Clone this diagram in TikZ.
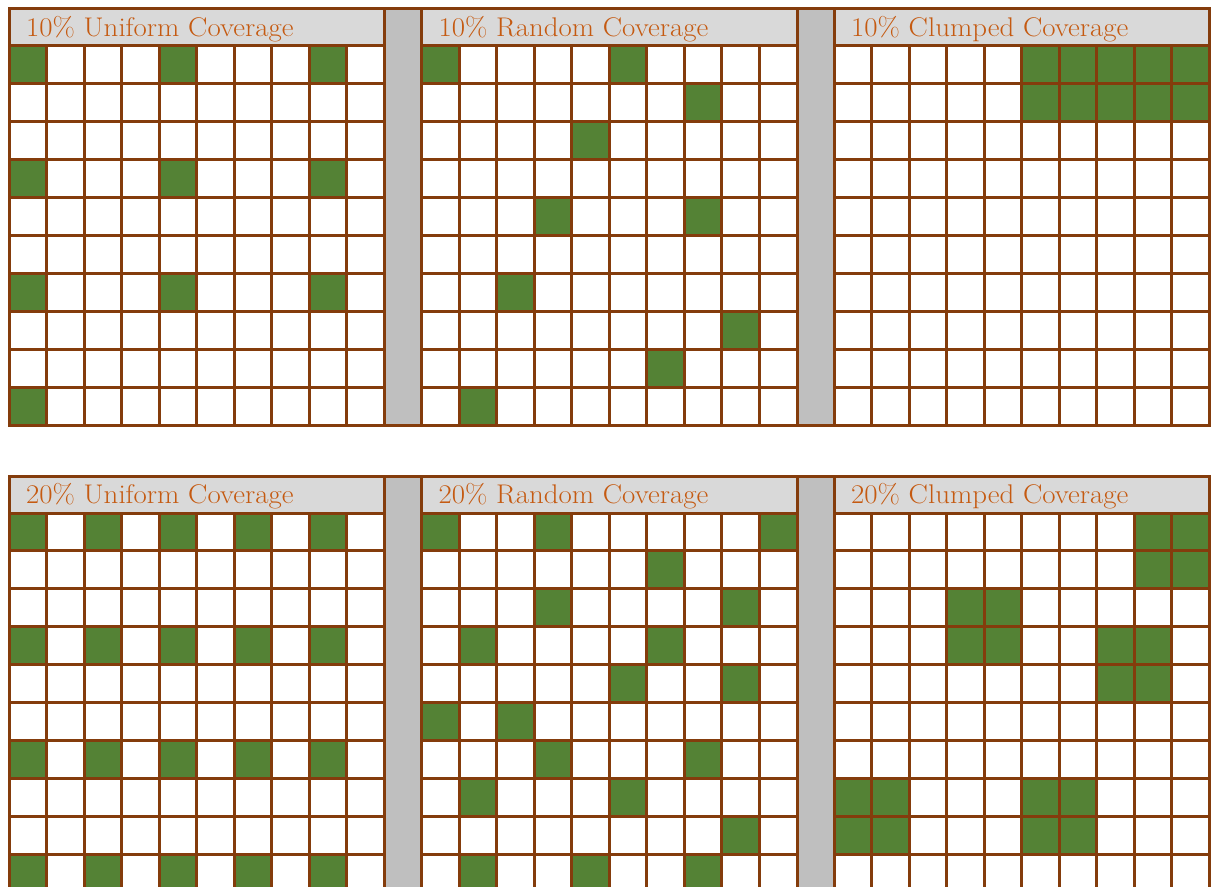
\documentclass[tikz,border=0pt]{standalone}
\usepackage{fontspec}
\newfontfamily\headfont{Latin Modern Roman}[FakeStretch=1.07]
\definecolor{edge}{HTML}{843C0C}
\definecolor{leaf}{HTML}{548235}
\definecolor{headfill}{HTML}{D9D9D9}
\definecolor{gapfill}{HTML}{BFBFBF}
\definecolor{titlecol}{HTML}{C55A11}
\newcommand\panelback[3]{% top, header bottom, row height
  \pgfmathsetmacro\pbot{#2+10*#3}
  \foreach \g in {0,1} {\fill[gapfill] ({9+412.5*\g+375.5},#1) rectangle ({9+412.5*(\g+1)},\pbot);}
  \foreach \g in {0,1,2} {\fill[headfill] ({9+412.5*\g},#1) rectangle ({9+412.5*\g+375.5},#2);}
}
\newcommand\greencells[4]{% grid, header bottom, row height, list c/r
  \foreach \c/\r in {#4} {\fill[leaf] ({9+412.5*#1+37.55*\c},{#2+#3*\r}) rectangle ++(37.55,#3);}
}
\newcommand\gridlines[4]{% grid, top, header bottom, row height
  \pgfmathsetmacro\gxo{9+412.5*#1}
  \pgfmathsetmacro\gyb{#3+10*#4}
  \foreach \c in {1,...,9} {\draw[gridline] ({\gxo+37.55*\c},#3) -- ({\gxo+37.55*\c},\gyb);}
  \foreach \r in {0,...,9} {\draw[gridline] (\gxo,{#3+#4*\r}) -- ({\gxo+375.5},{#3+#4*\r});}
  \draw[gridline] (\gxo,#2) -- (\gxo,\gyb);
  \draw[gridline] ({\gxo+375.5},#2) -- ({\gxo+375.5},\gyb);
}
\newcommand\outerlines[2]{% top, bottom
  \draw[gridline] (9,#1) -- (1209.5,#1);
  \draw[gridline] (9,#2) -- (1209.5,#2);
}
\begin{document}
\begin{tikzpicture}[x=1pt,y=-1pt,
  gridline/.style={draw=edge,line width=3pt,line cap=rect},
  titletext/.style={anchor=base west,text=titlecol,inner sep=0pt,font=\headfont\fontsize{27}{29}\selectfont}]
\useasboundingbox (0,0) rectangle (1212,886);
\clip (0,0) rectangle (1212,886);
\fill[white] (0,0) rectangle (1212,886);
% ---------- top panel ----------
\panelback{8.3}{45.3}{37.97}
\greencells{0}{45.3}{37.97}{0/0,4/0,8/0,0/3,4/3,8/3,0/6,4/6,8/6,0/9}
\greencells{1}{45.3}{37.97}{0/0,5/0,7/1,4/2,3/4,7/4,2/6,8/7,6/8,1/9}
\greencells{2}{45.3}{37.97}{5/0,6/0,7/0,8/0,9/0,5/1,6/1,7/1,8/1,9/1}
\foreach \g in {0,1,2} {\gridlines{\g}{8.3}{45.3}{37.97}}
\outerlines{8.3}{425.0}
\node[titletext] (t1) at (26,36) {10\% Uniform Coverage};
\node[titletext] (t2) at (438.5,36) {10\% Random Coverage};
\node[titletext] (t3) at (851,36) {10\% Clumped Coverage};
% ---------- bottom panel ----------
\panelback{476}{513}{37.9}
\greencells{0}{513}{37.9}{0/0,2/0,4/0,6/0,8/0,0/3,2/3,4/3,6/3,8/3,0/6,2/6,4/6,6/6,8/6,0/9,2/9,4/9,6/9,8/9}
\greencells{1}{513}{37.9}{0/0,3/0,9/0,6/1,3/2,8/2,1/3,6/3,5/4,8/4,0/5,2/5,3/6,7/6,1/7,5/7,8/8,1/9,4/9,7/9}
\greencells{2}{513}{37.9}{8/0,9/0,8/1,9/1,3/2,4/2,3/3,4/3,7/3,8/3,7/4,8/4,0/7,1/7,0/8,1/8,5/7,6/7,5/8,6/8}
\foreach \g in {0,1,2} {\gridlines{\g}{476}{513}{37.9}}
\outerlines{476}{892}
\node[titletext] (b1) at (26,503.3) {20\% Uniform Coverage};
\node[titletext] (b2) at (438.5,503.3) {20\% Random Coverage};
\node[titletext] (b3) at (851,503.3) {20\% Clumped Coverage};
\end{tikzpicture}
\end{document}
